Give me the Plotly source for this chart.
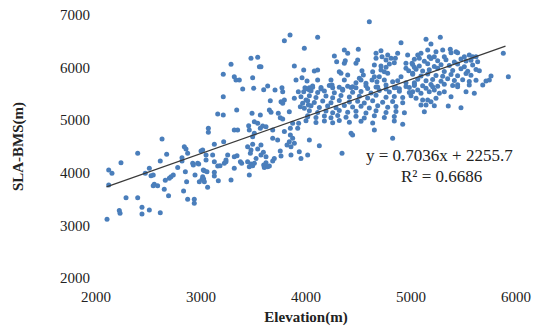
import plotly.graph_objects as go

# Scatter points (Elevation, SLA-BMS)
elev = [
 2238,2121,2152,2121,2508,2612,2469,2524,2545,2555,2587,2545,2650,2660,2698,2714,2736,2691,2778,2819,
 2851,2863,2834,2873,2936,2936,2927,2978,2943,2984,3022,3010,2286,2397,2438,2438,2508,2612,2222,2229,2105,
 3048,3127,3222,3238,3159,3181,3317,3375,3387,3444,3476,3460,3508,3492,3597,3603,3635,3651,3619,3683,
 3032,3057,3127,3127,3016,3025,3032,3165,3286,3460,3063,
 2629,2397,2673,2841,2857,2873,2819,3000,2921,2968,
 3397,3502,3597,3635,3705,3778,3927,3978,4032,3212,3660,3762,3794,3778,3889,3952,4000,3968,4022,3946,3984,
 3340,3159,3212,3486,3565,3651,3667,3736,3755,3778,3841,3930,4016,3873,3508,3540,3587,3619,3565,3070,3070,
 3317,3349,3454,3460,3508,3492,3683,3683,3730,3794,3851,3851,3873,3841,3819,3857,3889,3921,4032,3127,3216,
 3444,3476,3492,3571,3540,3594,3571,3619,3470,3524,3016,3048,3111,3254,3317,3343,3238,3755,3762,3698,3857,3936,3952,4016,
 3848,3794,3984,3540,3476,3286,3556,3571,3889,3978,3212,3317,3333,3365,3492,3905,3962,4010,3771,3990,4032,
 4603,4111,4905,4270,4365,4397,4498,4292,4365,4374,4476,4492,
 4667,4714,4724,4778,4667,4762,4810,4851,4873,4968,4841,4651,4714,4762,4794,4746,4778,4714,4952,5010,4952,4978,5032,5016,
 4079,4111,4317,4333,4397,4533,4546,4508,4476,4444,4635,4651,4629,4676,4698,4746,4111,4238,4248,4365,4524,4571,
 4825,4873,4952,5032,4905,4000,4063,4143,4254,4349,4429,4587,4683,4762,4841,4889,4984,
 5279,5143,5190,5879,5927,5762,5746,5714,5683,
 5159,5238,5302,5374,5381,5429,5444,5064,5095,5079,5174,5222,5317,5508,5555,5587,5619,
 5032,5127,5190,5254,5333,5413,5476,5524,5571,5635,
 5016,5079,5159,5222,5286,5365,5444,5508,5587,
 5048,5111,5174,5254,5317,5397,5476,5540,5619,5651,
 5016,5095,5159,5238,5302,5381,5444,5524,5571,
 5064,5143,5206,5286,5349,5413,5492,5555,5619,
 5032,5111,5190,5254,5317,5397,5444,
 4063,4143,4222,4317,4397,4476,4571,4667,4762,4857,4952,5032,
 4048,4111,4175,4270,4349,4444,4524,4619,4698,4794,4889,4984,
 4032,4095,4190,4254,4333,4413,4508,4587,4667,4762,4841,4921,5000,
 4016,4079,4159,4238,4317,4413,4492,4555,4635,4730,4825,4921,
 4048,4127,4206,4286,4365,4444,4524,4603,4683,4778,4857,
 4032,4111,4190,4254,4317,4397,4476,4571,4667,4762,4857,4937,
 4016,4095,4175,4238,4302,4381,4476,4555,4651,4746,4841,
 4000,4095,4175,4254,4317,4413,4524,4635,4841,
 4127,4343,4429,4444,4651,4825,4921,
 5016,5064,5095,5143,5174,5206,5222,5270,5317,5381,5444,5524,5603,5555,
 5048,5111,5159,5190,5238,5095,5143,5222,5127,5355,5476,
]
sla = [
 4193,4053,3990,3768,4085,4224,3990,3945,3958,3782,3755,3755,3686,3860,3895,3926,3958,3566,4103,4224,
 4021,3831,3654,3496,3496,3420,4147,4167,3958,3831,4053,3876,3528,3528,3344,3217,3293,3242,3281,3230,3116,
 4243,4211,4180,4211,4129,4135,4085,4211,4180,4211,4167,4116,4180,4135,4147,4103,4116,4129,4193,4224,
 4040,4021,4009,3939,3926,3882,3831,3851,3863,3958,3725,
 4643,4370,4351,4497,4452,4370,4287,4414,4180,4180,
 5593,5606,5580,5650,5574,5542,5542,5542,5574,5447,5371,5352,5384,5321,5416,5447,5384,5321,5289,5257,5226,
 5194,5118,5099,5131,5099,5194,5150,5131,5048,5023,5162,4940,5067,4940,4972,4940,4889,4877,4846,4846,4770,
 4814,4814,4896,4814,4751,4686,4814,4656,4624,4783,4846,4719,4656,4592,4529,4497,4561,4846,4624,4542,4592,
 4497,4433,4542,4529,4452,4390,4338,4306,4370,4274,4433,4338,4338,4338,4306,4325,4243,4414,4319,4274,4338,4401,4274,4338,
 6620,6511,6366,6196,6177,6063,6017,6017,6030,5954,5873,5827,5764,5764,5808,5764,5808,5745,5618,5618,5618,
 6873,6576,6473,6221,6335,6272,6348,6113,6082,6131,6082,6144,
 6272,6321,6207,6240,6177,6144,6177,6177,6272,6240,6094,6049,6030,6006,6068,5922,5891,5954,6082,6082,5987,5941,6006,5891,
 5935,5954,5922,5891,5859,5941,5859,5797,5713,5637,5922,5827,5764,5732,5827,5764,5764,5764,5669,5764,5764,5701,
 5732,5751,5713,5713,5827,5600,5625,5595,5615,5590,5620,5605,5630,5595,5615,5600,5620,
 6576,6538,6449,6272,5827,5840,5764,5745,5669,
 6335,6302,6335,6348,6284,6302,6284,6240,6272,6177,6207,6207,6207,6207,6240,6207,6207,
 6160,6120,6175,6130,6150,6105,6165,6125,6140,6110,
 6060,6030,6075,6020,6055,6040,6070,6015,6050,
 5970,5935,5960,5990,5925,5945,5980,5930,5965,5940,
 5875,5840,5880,5850,5835,5870,5845,5890,5855,
 5780,5750,5775,5740,5790,5755,5770,5735,5760,
 5690,5655,5680,5645,5685,5660,5675,
 5650,5620,5660,5625,5645,5615,5655,5630,5670,5620,5640,5660,
 5560,5525,5555,5520,5570,5530,5545,5515,5565,5535,5550,5525,
 5465,5430,5460,5425,5470,5440,5455,5420,5475,5435,5450,5430,5465,
 5370,5335,5365,5330,5375,5345,5360,5325,5370,5340,5355,5330,
 5275,5240,5270,5235,5280,5250,5265,5230,5275,5245,5260,
 5180,5145,5175,5140,5185,5150,5170,5135,5180,5145,5165,5140,
 5085,5050,5080,5045,5090,5055,5075,5040,5085,5050,5070,
 4990,4955,4985,4950,4995,4960,4980,4945,4985,
 4516,4370,4751,4719,4814,4656,4921,
 5542,5574,5511,5606,5542,5637,5574,5511,5542,5447,5637,5542,5511,5669,
 5416,5384,5384,5352,5416,5289,5289,5276,5162,5270,5238,
]

slope = 0.7036
intercept = 2255.7
trend_x = [2100, 5900]
trend_y = [slope * v + intercept for v in trend_x]

x_ticks = [2000, 3000, 4000, 5000, 6000]
y_ticks = [2000, 3000, 4000, 5000, 6000, 7000]

FONT = "Liberation Serif"

fig = go.Figure()
fig.add_trace(go.Scatter(x=elev, y=sla, mode="markers",
                         marker=dict(color="#4a7ebb", size=5, line=dict(width=0)),
                         showlegend=False, hoverinfo="skip"))
fig.add_trace(go.Scatter(x=trend_x, y=trend_y, mode="lines",
                         line=dict(color="#3a3a3a", width=1.2),
                         showlegend=False, hoverinfo="skip"))

fig.add_annotation(x=5267, y=4338, xref="x", yref="y", showarrow=False,
                   text="y = 0.7036x + 2255.7", font=dict(family=FONT, size=17, color="#222"))
fig.add_annotation(x=5290, y=3939, xref="x", yref="y", showarrow=False,
                   text="R² = 0.6686", font=dict(family=FONT, size=17, color="#222"))

fig.update_layout(
    width=535, height=330,
    margin=dict(l=96, r=19, t=15, b=52, autoexpand=False),
    paper_bgcolor="white", plot_bgcolor="white",
    font=dict(family=FONT, size=15, color="#222"),
)
fig.update_xaxes(range=[2000, 6000], tickvals=x_ticks, ticktext=[str(v) for v in x_ticks],
                 showgrid=False, zeroline=False, showline=False,
                 ticks="outside", ticklen=5, tickcolor="rgba(0,0,0,0)",
                 title=dict(text="<b>Elevation(m)</b>", font=dict(family=FONT, size=15), standoff=7))
fig.update_yaxes(range=[2000, 7000], tickvals=y_ticks, ticktext=[str(v) for v in y_ticks],
                 showgrid=False, zeroline=False, showline=False,
                 ticks="outside", ticklen=2, tickcolor="rgba(0,0,0,0)",
                 title=dict(text="<b>SLA-BMS(m)</b>", font=dict(family=FONT, size=15), standoff=32))

fig.write_html("out.html")
